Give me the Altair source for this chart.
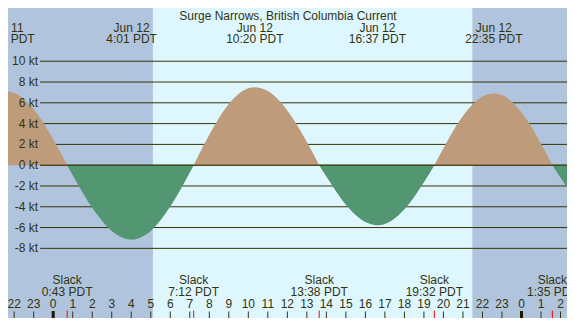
import altair as alt
import pandas as pd

# ---------------- data (hours from Jun 12 00:00 PDT, knots) ----------------
seg_hours = [
    [-3.0, -2.42, -2.0, -1.0, 0.0, 0.717],
    [0.717, 1.0, 2.0, 3.0, 4.017, 5.0, 6.0, 7.0, 7.2],
    [7.2, 8.0, 9.0, 10.0, 10.333, 11.0, 12.0, 13.0, 13.633],
    [13.633, 14.0, 15.0, 16.0, 16.617, 17.0, 18.0, 19.0, 19.533],
    [19.533, 20.0, 21.0, 22.0, 22.583, 23.0, 24.0, 25.0, 25.583],
    [25.583, 26.0, 27.0, 28.0],
]
seg_values = [
    [6.81, 7.1, 6.94, 5.38, 2.49, 0.0],
    [0.0, -0.96, -4.09, -6.32, -7.14, -6.32, -3.98, -0.70, 0.0],
    [0.0, 2.93, 5.89, 7.40, 7.5, 7.13, 5.26, 2.23, 0.0],
    [0.0, -1.10, -3.81, -5.47, -5.77, -5.65, -4.24, -1.63, 0.0],
    [0.0, 1.64, 4.73, 6.60, 6.9, 6.74, 5.08, 2.07, 0.0],
    [0.0, -1.21, -3.81, -5.57],
]
seg_kinds = ["flood", "ebb", "flood", "ebb", "flood", "ebb"]

max_hours = [-2.42, 4.017, 10.333, 16.617, 22.583]
max_dates = ["Jun 11", "Jun 12", "Jun 12", "Jun 12", "Jun 12"]
max_times = ["21:35 PDT", "4:01 PDT", "10:20 PDT", "16:37 PDT", "22:35 PDT"]

slack_hours = [0.717, 7.2, 13.633, 19.533, 25.583]
slack_times = ["0:43 PDT", "7:12 PDT", "13:38 PDT", "19:32 PDT", "1:35 PDT"]

tick_hours = [-2, -1, 0, 1, 2, 3, 4, 5, 6, 7, 8, 9, 10, 11, 12, 13, 14, 15,
              16, 17, 18, 19, 20, 21, 22, 23, 24, 25, 26]
tick_labels = ["22", "23", "0", "1", "2", "3", "4", "5", "6", "7", "8", "9",
               "10", "11", "12", "13", "14", "15", "16", "17", "18", "19",
               "20", "21", "22", "23", "0", "1", "2"]
midnight_hours = [0, 24]

grid_values = [-8, -6, -4, -2, 0, 2, 4, 6, 8, 10]
grid_labels = ["-8 kt", "-6 kt", "-4 kt", "-2 kt", "0 kt", "2 kt", "4 kt",
               "6 kt", "8 kt", "10 kt"]

sunrise = [5.107]
sunset = [21.485]

title_text = "Surge Narrows, British Columbia Current"

# ---------------- styles ----------------
W, H = 559, 310
NIGHT = "#b0c4de"
DAY = "#def7ff"
TAN = "#be9b7a"
GREEN = "#529672"
INK = "#333310"
GRID = "#333300"
FONT = "Liberation Sans"
FS = 12

rows = []
for i, (hs, vs) in enumerate(zip(seg_hours, seg_values)):
    for h, v in zip(hs, vs):
        rows.append({"h": h, "v": v, "seg": i, "kind": seg_kinds[i]})
curve = pd.DataFrame(rows)

xs = alt.Scale(domain=[-2.317, 26.333], nice=False, zero=False)
ys = alt.Scale(domain=[-14.70, 15.12], nice=False, zero=False)

band = alt.Chart(pd.DataFrame({"a": sunrise, "b": sunset})).mark_rect(
    color=DAY).encode(
    x=alt.X("a:Q", scale=xs, axis=None), x2="b:Q",
    y=alt.value(0), y2=alt.value(H))

gdf = pd.DataFrame({"v": grid_values, "lab": grid_labels})
grid = alt.Chart(gdf).mark_rule(color=GRID, strokeWidth=1).encode(
    y=alt.Y("v:Q", scale=ys, axis=None),
    x=alt.value(32.1), x2=alt.value(W))
zero_line = alt.Chart(gdf[gdf.v == 0]).mark_rule(color=GRID, strokeWidth=1).encode(
    y=alt.Y("v:Q", scale=ys, axis=None),
    x=alt.value(32.1), x2=alt.value(W))
ylabels = alt.Chart(gdf).mark_text(
    align="right", baseline="middle", font=FONT, fontSize=FS, color=INK).encode(
    y=alt.Y("v:Q", scale=ys, axis=None), x=alt.value(30.1), text="lab:N")

area = alt.Chart(curve).mark_area(interpolate="monotone", clip=True).encode(
    x=alt.X("h:Q", scale=xs, axis=None),
    y=alt.Y("v:Q", scale=ys, axis=None, stack=None),
    y2=alt.datum(0),
    color=alt.Color("kind:N", scale=alt.Scale(domain=["flood", "ebb"],
                                              range=[TAN, GREEN]), legend=None),
    detail="seg:N")

tdf = pd.DataFrame({"h": tick_hours, "lab": tick_labels})
ticks = alt.Chart(tdf).mark_rule(color=INK, strokeWidth=1).encode(
    x=alt.X("h:Q", scale=xs, axis=None), y=alt.value(303.5), y2=alt.value(H))
mid_ticks = alt.Chart(pd.DataFrame({"h": midnight_hours})).mark_rule(
    color="#1a1a00", strokeWidth=3).encode(
    x=alt.X("h:Q", scale=xs, axis=None), y=alt.value(303), y2=alt.value(H))
tick_text = alt.Chart(tdf).mark_text(
    align="center", baseline="alphabetic", font=FONT, fontSize=FS, color=INK,
    clip=True).encode(
    x=alt.X("h:Q", scale=xs, axis=None), y=alt.value(300.4), text="lab:N")

sdf = pd.DataFrame({"h": slack_hours, "t": slack_times, "s": ["Slack"] * 5})
slack_ticks = alt.Chart(sdf).mark_rule(color="#ff0000", strokeWidth=1).encode(
    x=alt.X("h:Q", scale=xs, axis=None), y=alt.value(302.5), y2=alt.value(H))
slack_word = alt.Chart(sdf).mark_text(
    align="center", baseline="alphabetic", font=FONT, fontSize=FS, color=INK,
    clip=True).encode(
    x=alt.X("h:Q", scale=xs, axis=None), y=alt.value(276.2), text="s:N")
slack_time = alt.Chart(sdf).mark_text(
    align="center", baseline="alphabetic", font=FONT, fontSize=FS, color=INK,
    clip=True).encode(
    x=alt.X("h:Q", scale=xs, axis=None), y=alt.value(287.6), text="t:N")

mdf = pd.DataFrame({"h": max_hours, "d": max_dates, "t": max_times})
max_date = alt.Chart(mdf).mark_text(
    align="center", baseline="alphabetic", font=FONT, fontSize=FS, color=INK,
    clip=True).encode(
    x=alt.X("h:Q", scale=xs, axis=None), y=alt.value(23.6), text="d:N")
max_time = alt.Chart(mdf).mark_text(
    align="center", baseline="alphabetic", font=FONT, fontSize=FS, color=INK,
    clip=True).encode(
    x=alt.X("h:Q", scale=xs, axis=None), y=alt.value(34.6), text="t:N")

title = alt.Chart(pd.DataFrame({"t": [title_text]})).mark_text(
    align="center", baseline="alphabetic", font=FONT, fontSize=FS, color=INK).encode(
    x=alt.value(W / 2 + 0.5), y=alt.value(12.0), text="t:N")

chart = alt.layer(
    band, grid, area, zero_line, ylabels, ticks, mid_ticks, slack_ticks,
    tick_text, slack_word, slack_time, max_date, max_time, title
).properties(
    width=W, height=H, background=NIGHT, padding=0,
    autosize=alt.AutoSizeParams(type="none")
).configure_view(stroke=None)

chart.save("out.html", embed_options={"renderer": "svg", "actions": False})
